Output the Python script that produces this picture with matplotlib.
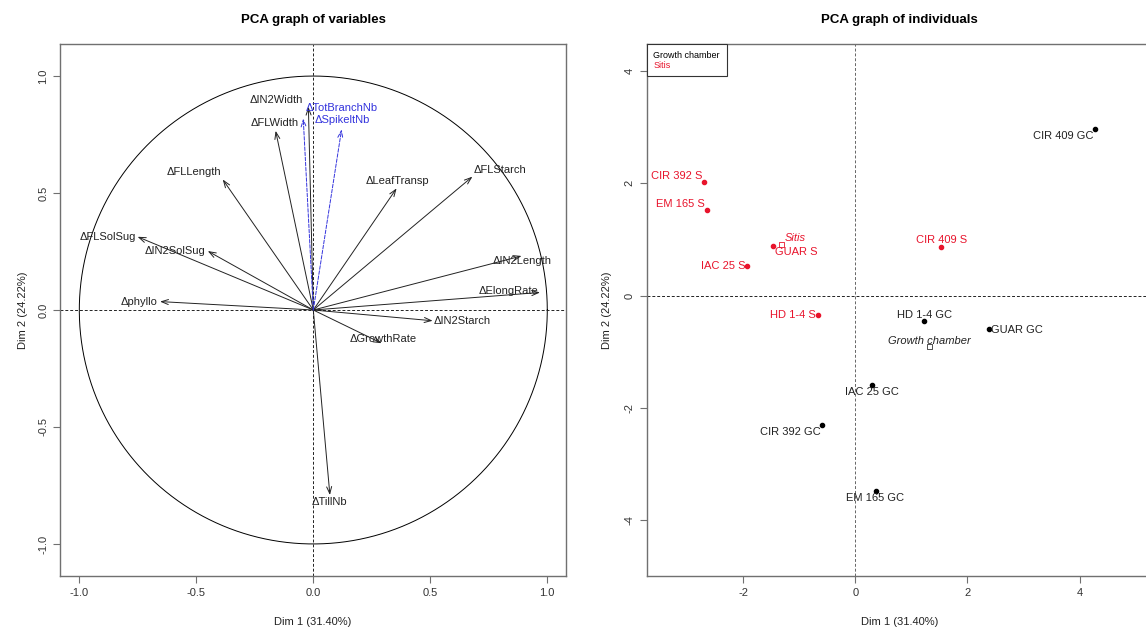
import numpy as np
import matplotlib
matplotlib.use("Agg")
import matplotlib.pyplot as plt
from matplotlib.lines import Line2D

plt.rcParams['font.family'] = ['Liberation Sans', 'DejaVu Sans']
plt.rcParams['axes.unicode_minus'] = False

# variables (active)
var_names = ['ΔIN2Width', 'ΔFLWidth', 'ΔFLLength', 'ΔLeafTransp', 'ΔFLStarch',
             'ΔFLSolSug', 'ΔIN2SolSug', 'ΔIN2Length', 'ΔElongRate', 'Δphyllo',
             'ΔIN2Starch', 'ΔGrowthRate', 'ΔTillNb']
var_dim1 = [-0.021, -0.161, -0.387, 0.356, 0.680, -0.751, -0.451, 0.890, 0.969,
            -0.655, 0.510, 0.292, 0.071]
var_dim2 = [0.869, 0.766, 0.558, 0.520, 0.570, 0.313, 0.252, 0.231, 0.075,
            0.036, -0.046, -0.142, -0.791]
# supplementary variables
sup_names = ['ΔTotBranchNb', 'ΔSpikeltNb']
sup_dim1 = [-0.043, 0.121]
sup_dim2 = [0.819, 0.772]

# individuals
gc_names = ['CIR 409 GC', 'HD 1-4 GC', 'GUAR GC', 'IAC 25 GC', 'CIR 392 GC', 'EM 165 GC']
gc_dim1 = [4.27, 1.23, 2.38, 0.30, -0.59, 0.36]
gc_dim2 = [2.96, -0.45, -0.60, -1.59, -2.30, -3.48]
s_names = ['CIR 392 S', 'EM 165 S', 'GUAR S', 'IAC 25 S', 'CIR 409 S', 'HD 1-4 S']
s_dim1 = [-2.69, -2.65, -1.47, -1.93, 1.53, -0.67]
s_dim2 = [2.02, 1.53, 0.88, 0.53, 0.87, -0.34]
groups = ['Growth chamber', 'Sitis']

# label offsets in pixels (layout only)
var_off = [(-32, 7), (-1, 8), (-29, 7), (1, 7), (28, 7), (-30, 0), (-33, 0),
           (1, -5), (-32, 1), (-21, 0), (30, 0), (2, 4), (0, -7)]
sup_off = [(38, 10), (1, 9)]
gc_off = [(-32, -7), (0, 6), (28, -1), (0, -7), (-32, -7), (0, -7)]
s_off = [(-28, 6), (-26, 6), (23, -6), (-24, 0), (0, 7), (-25, 0)]

RED = '#e8142c'
FRAME = '#707070'

fig = plt.figure(figsize=(11.46, 6.32), dpi=100)

def style_axes(ax):
    for sp in ax.spines.values():
        sp.set_color(FRAME)
        sp.set_linewidth(1.0)
    ax.tick_params(colors='#333333', labelsize=8, length=5, width=0.8)
    ax.tick_params(axis='both', color=FRAME)
    for lab in ax.get_yticklabels():
        lab.set_rotation(90)
        lab.set_va('center')

# ---- PCA graph of variables
ax1 = fig.add_axes([60 / 1146, 56 / 632, 506 / 1146, 532 / 632])
ax1.set_xlim(-1.0825, 1.08)
ax1.set_ylim(-1.137, 1.137)
ax1.set_xticks([-1.0, -0.5, 0.0, 0.5, 1.0])
ax1.set_yticks([-1.0, -0.5, 0.0, 0.5, 1.0])
ax1.set_xticklabels(['-1.0', '-0.5', '0.0', '0.5', '1.0'])
ax1.set_yticklabels(['-1.0', '-0.5', '0.0', '0.5', '1.0'])
style_axes(ax1)
t = np.linspace(0, 2 * np.pi, 400)
ax1.plot(np.cos(t), np.sin(t), color='black', lw=0.7)
ax1.axhline(0, color='#222222', lw=0.7, ls=(0, (3, 2)))
ax1.axvline(0, color='#222222', lw=0.7, ls=(0, (3, 2)))

for name, x, y, off in zip(var_names, var_dim1, var_dim2, var_off):
    ax1.annotate('', xy=(x, y), xytext=(0, 0),
                 arrowprops=dict(arrowstyle='->,head_length=0.5,head_width=0.18',
                                 color='#222222', lw=0.7, shrinkA=0, shrinkB=0))
    ax1.annotate(name, xy=(x, y), xytext=off, textcoords='offset pixels',
                 ha='center', va='center', fontsize=8, color='#222222')
for name, x, y, off in zip(sup_names, sup_dim1, sup_dim2, sup_off):
    ax1.annotate('', xy=(x, y), xytext=(0, 0),
                 arrowprops=dict(arrowstyle='->,head_length=0.5,head_width=0.18',
                                 color='#3333dd', lw=0.7, ls='--', shrinkA=0, shrinkB=0))
    ax1.annotate(name, xy=(x, y), xytext=off, textcoords='offset pixels',
                 ha='center', va='center', fontsize=8, color='#3333dd')

ax1.set_xlabel('Dim 1 (31.40%)', fontsize=8, color='#222222', labelpad=14)
ax1.set_ylabel('Dim 2 (24.22%)', fontsize=8, color='#222222', labelpad=7)
ax1.set_title('PCA graph of variables', fontsize=9.5, fontweight='bold', pad=15)

# ---- PCA graph of individuals
ax2 = fig.add_axes([646.7 / 1146, 56 / 632, 505.3 / 1146, 532 / 632])
ax2.set_xlim(-3.72, 5.29)
ax2.set_ylim(-4.99, 4.48)
ax2.set_xticks([-2, 0, 2, 4])
ax2.set_yticks([-4, -2, 0, 2, 4])
style_axes(ax2)
ax2.axhline(0, color='#222222', lw=0.7, ls=(0, (3, 2)))
ax2.axvline(0, color='#666666', lw=0.7, ls=(0, (3, 2)))

ax2.scatter(gc_dim1, gc_dim2, s=9, color='black', zorder=3)
ax2.scatter(s_dim1, s_dim2, s=9, color=RED, zorder=3)
for name, x, y, off in zip(gc_names, gc_dim1, gc_dim2, gc_off):
    ax2.annotate(name, xy=(x, y), xytext=off, textcoords='offset pixels',
                 ha='center', va='center', fontsize=8, color='#222222')
for name, x, y, off in zip(s_names, s_dim1, s_dim2, s_off):
    ax2.annotate(name, xy=(x, y), xytext=off, textcoords='offset pixels',
                 ha='center', va='center', fontsize=8, color=RED)

# group centroids
cx = [np.mean(gc_dim1), np.mean(s_dim1)]
cy = [np.mean(gc_dim2), np.mean(s_dim2)]
ax2.scatter(cx[0], cy[0], s=14, marker='s', facecolors='none', edgecolors='#333333', lw=0.6, zorder=3)
ax2.scatter(cx[1], cy[1], s=14, marker='s', facecolors='none', edgecolors=RED, lw=0.6, zorder=3)
ax2.annotate(groups[0], xy=(cx[0], cy[0]), xytext=(0, 6), textcoords='offset pixels',
             ha='center', va='center', fontsize=8, style='italic', color='#222222')
ax2.annotate(groups[1], xy=(cx[1], cy[1]), xytext=(14, 6), textcoords='offset pixels',
             ha='center', va='center', fontsize=8, style='italic', color=RED)

handles = [Line2D([], [], linestyle='none') for _ in groups]
leg = ax2.legend(handles, groups, loc='upper left', borderaxespad=0, fontsize=6.5,
                 handlelength=0, handletextpad=0, fancybox=False, framealpha=1,
                 edgecolor='#333333', borderpad=0.75, labelspacing=0.1,
                 labelcolor=['black', RED])
leg.get_frame().set_linewidth(0.8)
leg._legend_box.align = 'left'
for txt in leg.get_texts():
    txt.set_ha('left')

ax2.set_xlabel('Dim 1 (31.40%)', fontsize=8, color='#222222', labelpad=14)
ax2.set_ylabel('Dim 2 (24.22%)', fontsize=8, color='#222222', labelpad=9)
ax2.set_title('PCA graph of individuals', fontsize=9.5, fontweight='bold', pad=15)

fig.savefig('out.png', dpi=100)
